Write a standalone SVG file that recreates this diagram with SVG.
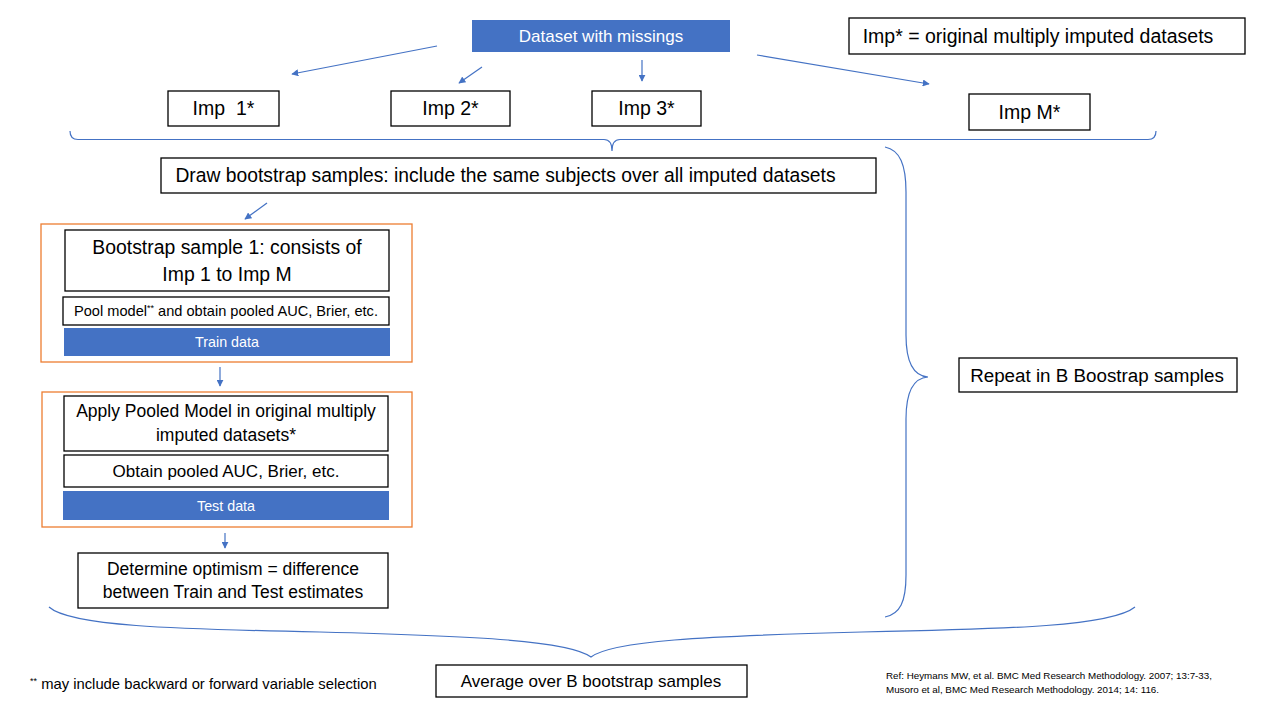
<svg xmlns="http://www.w3.org/2000/svg" width="1280" height="720" viewBox="0 0 1280 720">
<defs>
<marker id="ah" viewBox="0 0 10 10" refX="9" refY="5" markerWidth="7" markerHeight="7" markerUnits="userSpaceOnUse" orient="auto">
<path d="M0,0 L10,5 L0,10 z" fill="#4472C4"/>
</marker>
<style>
text{font-family:"Liberation Sans",Arial,sans-serif;fill:#000;text-anchor:middle}
.box{fill:#fff;stroke:#000;stroke-width:1.3}
.fill{fill:#4472C4;stroke:none}
.wt{fill:#fff}
.org{fill:none;stroke:#ED7D31;stroke-width:1.3}
.con{fill:none;stroke:#4472C4;stroke-width:1.2}
.arr{fill:none;stroke:#4472C4;stroke-width:1.2;marker-end:url(#ah)}
.lft{text-anchor:start}
</style>
</defs>
<rect width="1280" height="720" fill="#fff"/>

<g id="connectors">
<line class="arr" x1="437" y1="46" x2="292" y2="74"/>
<line class="arr" x1="482" y1="67" x2="459" y2="83"/>
<line class="arr" x1="642" y1="60" x2="642" y2="81"/>
<line class="arr" x1="757" y1="55" x2="929" y2="84"/>
<line class="arr" x1="267" y1="203" x2="245" y2="219"/>
<line class="arr" x1="220" y1="367" x2="220" y2="386"/>
<line class="arr" x1="225" y1="533" x2="225" y2="548"/>
<path class="con" d="M70,131 Q70,139.5 78,139.5 L604,139.5 Q612,139.5 612,151 Q612,139.5 620,139.5 L1148,139.5 Q1156,139.5 1156,131"/>
<path class="con" d="M885,147 C900,150 906,165 906,192 L906,335 C906,362 913,376 928,377 C913,378 906,392 906,419 L906,575 C906,602 900,614 885,617"/>
<path class="con" d="M49,607 C70,626 170,629 320,632 C480,636 570,641 591,657 C612,641 702,636 862,632 C1012,629 1112,626 1135,607"/>
</g>

<g id="dataset">
<rect class="fill" x="472" y="20" width="258" height="32"/>
<text class="wt" x="601" y="42" font-size="17">Dataset with missings</text>
</g>

<g id="legend">
<rect class="box" x="849" y="18" width="396" height="36"/>
<text x="1038" y="43" font-size="19.5">Imp* = original multiply imputed datasets</text>
</g>

<g id="imp1">
<rect class="box" x="168" y="91" width="111" height="35"/>
<text x="223.5" y="115" font-size="19.5" xml:space="preserve">Imp  1*</text>
</g>
<g id="imp2">
<rect class="box" x="391" y="91" width="119" height="35"/>
<text x="450.5" y="115" font-size="19.5">Imp 2*</text>
</g>
<g id="imp3">
<rect class="box" x="592" y="91" width="109" height="35"/>
<text x="646.5" y="115" font-size="19.5">Imp 3*</text>
</g>
<g id="impM">
<rect class="box" x="969" y="94" width="121" height="36"/>
<text x="1029.5" y="119" font-size="19.5">Imp M*</text>
</g>

<g id="draw">
<rect class="box" x="161" y="158" width="715" height="35"/>
<text x="505.5" y="182" font-size="19.3">Draw bootstrap samples: include the same subjects over all imputed datasets</text>
</g>

<g id="train-group">
<rect class="org" x="41" y="224" width="371" height="138"/>
<g id="bootstrap1">
<rect class="box" x="65" y="230" width="324" height="61"/>
<text x="227" y="254" font-size="19.4">Bootstrap sample 1: consists of</text>
<text x="227" y="281" font-size="19.4">Imp 1 to Imp M</text>
</g>
<g id="pool">
<rect class="box" x="63" y="297" width="326" height="28"/>
<text x="226" y="316" font-size="14.6">Pool model<tspan font-size="9" dy="-5">**</tspan><tspan dy="5"> and obtain pooled AUC, Brier, etc.</tspan></text>
</g>
<g id="train">
<rect class="fill" x="64" y="328" width="326" height="28"/>
<text class="wt" x="227" y="347" font-size="14.3">Train data</text>
</g>
</g>

<g id="test-group">
<rect class="org" x="42" y="392" width="370" height="135"/>
<g id="apply">
<rect class="box" x="64" y="396" width="324" height="55"/>
<text x="226" y="417" font-size="17.5">Apply Pooled Model in original multiply</text>
<text x="226" y="441" font-size="17.5">imputed datasets*</text>
</g>
<g id="obtain">
<rect class="box" x="64" y="455" width="324" height="32"/>
<text x="226" y="477" font-size="17">Obtain pooled AUC, Brier, etc.</text>
</g>
<g id="test">
<rect class="fill" x="63" y="491" width="326" height="29"/>
<text class="wt" x="226" y="511" font-size="14.3">Test data</text>
</g>
</g>

<g id="optimism">
<rect class="box" x="78" y="553" width="310" height="55"/>
<text x="233" y="575" font-size="17.5">Determine optimism = difference</text>
<text x="233" y="598" font-size="17.5">between Train and Test estimates</text>
</g>

<g id="repeat">
<rect class="box" x="959" y="358" width="278" height="34"/>
<text x="1097" y="382" font-size="18.8">Repeat in B Boostrap samples</text>
</g>

<g id="average">
<rect class="box" x="436" y="665" width="311" height="32"/>
<text x="591" y="687" font-size="17">Average over B bootstrap samples</text>
</g>

<g id="footnote">
<text class="lft" x="30" y="689" font-size="14.8"><tspan font-size="9" dy="-5">**</tspan><tspan dy="5"> may include backward or forward variable selection</tspan></text>
</g>

<g id="reference">
<text class="lft" x="886" y="679" font-size="9.8">Ref: Heymans MW, et al. BMC Med Research Methodology. 2007; 13:7-33,</text>
<text class="lft" x="886" y="693" font-size="9.8">Musoro et al, BMC Med Research Methodology. 2014; 14: 116.</text>
</g>
</svg>
